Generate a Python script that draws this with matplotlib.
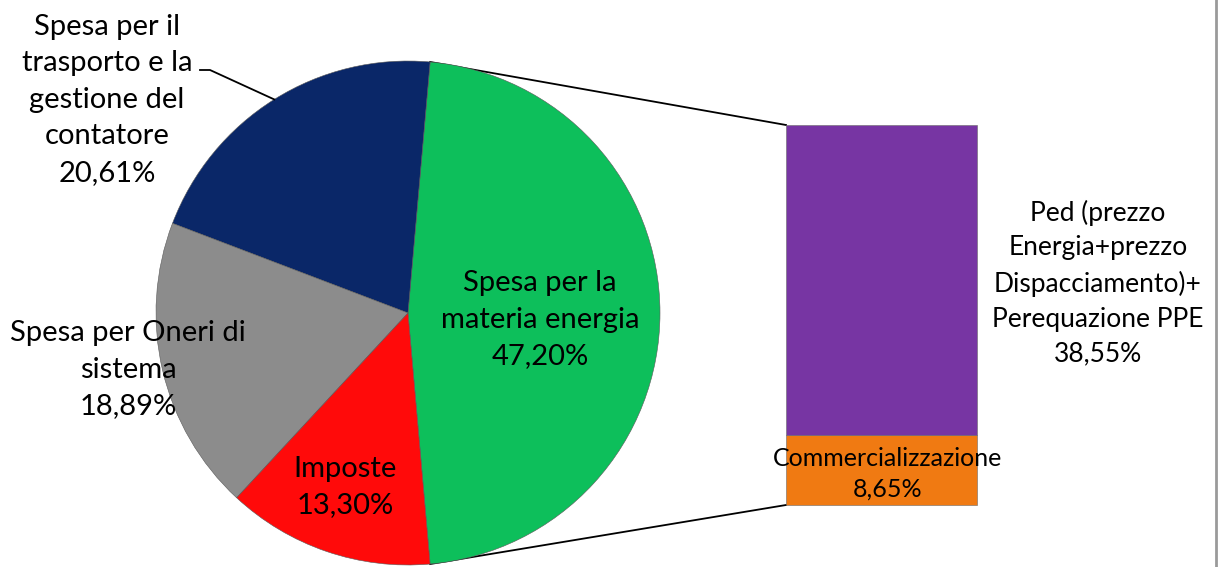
import numpy as np
import matplotlib
matplotlib.use("Agg")
import matplotlib.pyplot as plt

# pie slices (percent of total bill)
pie_labels = ["Spesa per la\nmateria energia", "Spesa per il\ntrasporto e la\ngestione del\ncontatore",
              "Spesa per Oneri di\nsistema", "Imposte"]
pie_values = [47.20, 20.61, 18.89, 13.30]
pie_colors = ["#0dbf5b", "#0a2768", "#8c8c8c", "#ff0a0a"]

# breakdown of the energy slice
bar_labels = ["Commercializzazione", "Ped (prezzo\nEnergia+prezzo\nDispacciamento)+\nPerequazione PPE"]
bar_values = [8.65, 38.55]
bar_colors = ["#f07a12", "#7735a3"]

W, H = 1219, 567
plt.rcParams['font.family'] = ['Lato', 'DejaVu Sans']

fig = plt.figure(figsize=(W / 100, H / 100), dpi=100)
ax = fig.add_axes([0, 0, 1, 1])

def fmt(v):
    return f"{v:.2f}".replace(".", ",") + "%"

# pie, work in pixel-like coords with y going up
cx, cy, r = 408, H - 313, 252
start = -pie_values[0] / sum(pie_values) * 360 / 2
wedges, _ = ax.pie(pie_values, colors=pie_colors, startangle=start, counterclock=True,
                   center=(cx, cy), radius=r, frame=True,
                   wedgeprops=dict(edgecolor="#5a5a5a", linewidth=0.4, zorder=3))

# bar on the right
bx, bw, by0, bh = 881.5, 191, H - 505, 380
scale = bh / sum(bar_values)
bottom = by0
for v, c in zip(bar_values, bar_colors):
    ax.bar(bx, v * scale, width=bw, bottom=bottom, color=c, edgecolor="#6a6a6a",
           linewidth=0.4, zorder=3)
    bottom += v * scale

# connector lines from the split slice to the bar
g = wedges[0]
for th, yb in [(g.theta2, by0 + bh), (g.theta1, by0)]:
    px = cx + r * np.cos(np.radians(th))
    py = cy + r * np.sin(np.radians(th))
    ax.plot([px, bx - bw / 2], [py, yb], color="black", lw=1.3, zorder=2)

fs = 21
# labels
ax.text(540, H - 320, pie_labels[0] + "\n" + fmt(pie_values[0]), ha="center", va="center",
        fontsize=fs, linespacing=1.5, zorder=5)
ax.text(107, H - 100, pie_labels[1] + "\n" + fmt(pie_values[1]), ha="center", va="center",
        fontsize=fs, linespacing=1.5, zorder=5)
ax.text(128, H - 370, pie_labels[2] + "\n" + fmt(pie_values[2]), ha="center", va="center",
        fontsize=fs, linespacing=1.5, zorder=5)
ax.text(345, H - 487, pie_labels[3] + "\n" + fmt(pie_values[3]), ha="center", va="center",
        fontsize=fs, linespacing=1.5, zorder=5)
ax.text(888, H - 474, bar_labels[0] + "\n" + fmt(bar_values[0]), ha="center", va="center",
        fontsize=18, linespacing=1.4, zorder=5)
ax.text(1098, H - 283, bar_labels[1] + "\n" + fmt(bar_values[1]), ha="center", va="center",
        fontsize=19, linespacing=1.49, zorder=5)

# leader line for the blue slice label
b = wedges[1]
mid = np.radians((b.theta1 + b.theta2) / 2)
ex, ey = cx + r * np.cos(mid), cy + r * np.sin(mid)
ax.plot([200, 210, ex], [H - 70, H - 70, ey], color="black", lw=1.3, zorder=4)

# chart area border on the right
ax.plot([1216, 1216], [0, H], color="#9a9a9a", lw=2, zorder=1)

ax.set_xlim(0, W)
ax.set_ylim(0, H)
ax.set_aspect("auto")
ax.axis("off")

fig.savefig("out.png", dpi=100)
